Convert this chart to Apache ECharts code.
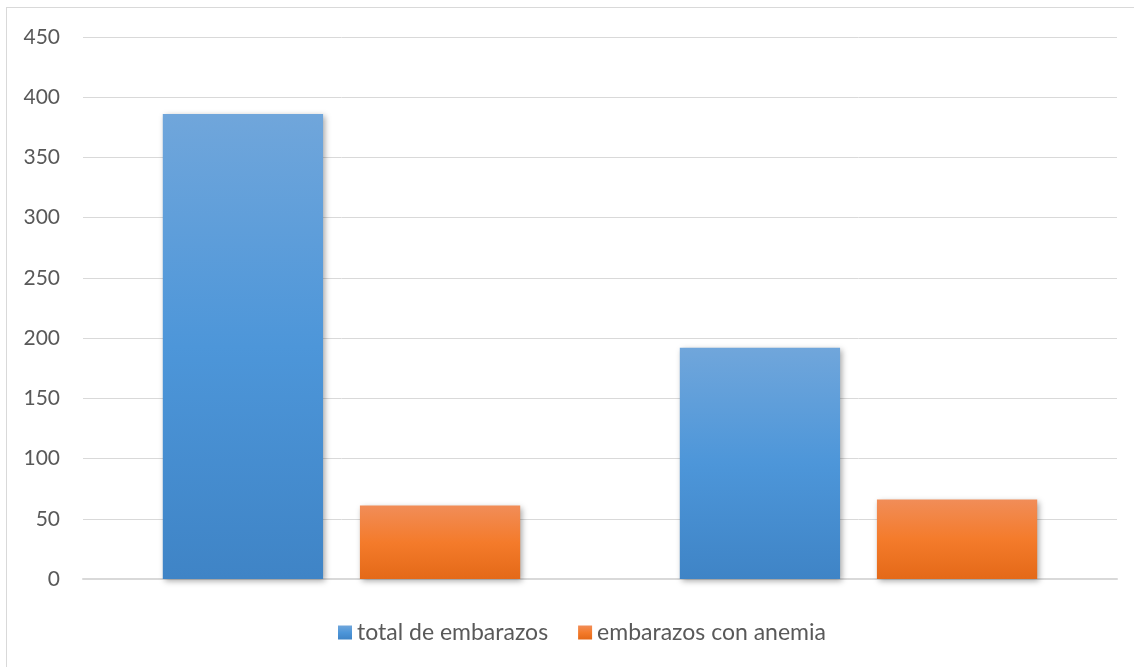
<!DOCTYPE html>
<html>
<head>
<meta charset="utf-8">
<script src="https://cdn.jsdelivr.net/npm/echarts@6/dist/echarts.min.js"></script>
<style>
html,body{margin:0;padding:0;background:#fff;overflow:hidden;}
#frame{position:absolute;left:6px;top:7px;width:1140px;height:670px;border:1px solid #d9d9d9;box-sizing:border-box;}
#chart{position:absolute;left:0;top:0;width:1134px;height:667px;}
</style>
</head>
<body>
<div id="frame"></div>
<div id="chart"></div>
<script>
const categories = ["Grupo 1", "Grupo 2"];
const seriesNames = ["total de embarazos", "embarazos con anemia"];
const totalEmbarazos = [386, 192];
const embarazosAnemia = [61, 66];
const yTicks = { min: 0, max: 450, interval: 50 };

const chart = echarts.init(document.getElementById('chart'));
const grad = (c1, c2, c3) => new echarts.graphic.LinearGradient(0, 0, 0, 1, [
  { offset: 0, color: c1 }, { offset: 0.5, color: c2 }, { offset: 1, color: c3 }
]);
const shadow = { shadowBlur: 6, shadowColor: 'rgba(0,0,0,0.35)', shadowOffsetX: 2, shadowOffsetY: 2 };
chart.setOption({
  animation: false,
  textStyle: { fontFamily: 'Lato' },
  grid: { left: 83, right: 17, top: 37, bottom: 88, containLabel: false },
  legend: {
    bottom: 18, left: 333,
    icon: 'rect', itemWidth: 14, itemHeight: 14, itemGap: 30,
    textStyle: { fontSize: 23, color: '#595959', fontFamily: 'Lato' },
    data: seriesNames
  },
  xAxis: {
    type: 'category', data: categories,
    axisLine: { show: true, lineStyle: { color: '#d9d9d9', width: 2 } },
    axisTick: { show: false }, axisLabel: { show: false }
  },
  yAxis: {
    type: 'value', min: yTicks.min, max: yTicks.max, interval: yTicks.interval,
    axisLine: { show: false }, axisTick: { show: false },
    axisLabel: { fontSize: 21, color: '#595959', margin: 23, fontFamily: 'Lato' },
    splitLine: { lineStyle: { color: '#d9d9d9', width: 1 } }
  },
  series: [
    {
      name: seriesNames[0], type: 'bar', data: totalEmbarazos,
      barWidth: '31%', barGap: '23%',
      itemStyle: Object.assign({ color: grad('#70a6db', '#4d96d9', '#3f84c6') }, shadow)
    },
    {
      name: seriesNames[1], type: 'bar', data: embarazosAnemia,
      barWidth: '31%', barGap: '23%',
      itemStyle: Object.assign({ color: grad('#f18d58', '#f47b2b', '#e46918') }, shadow)
    }
  ]
});
</script>
</body>
</html>
